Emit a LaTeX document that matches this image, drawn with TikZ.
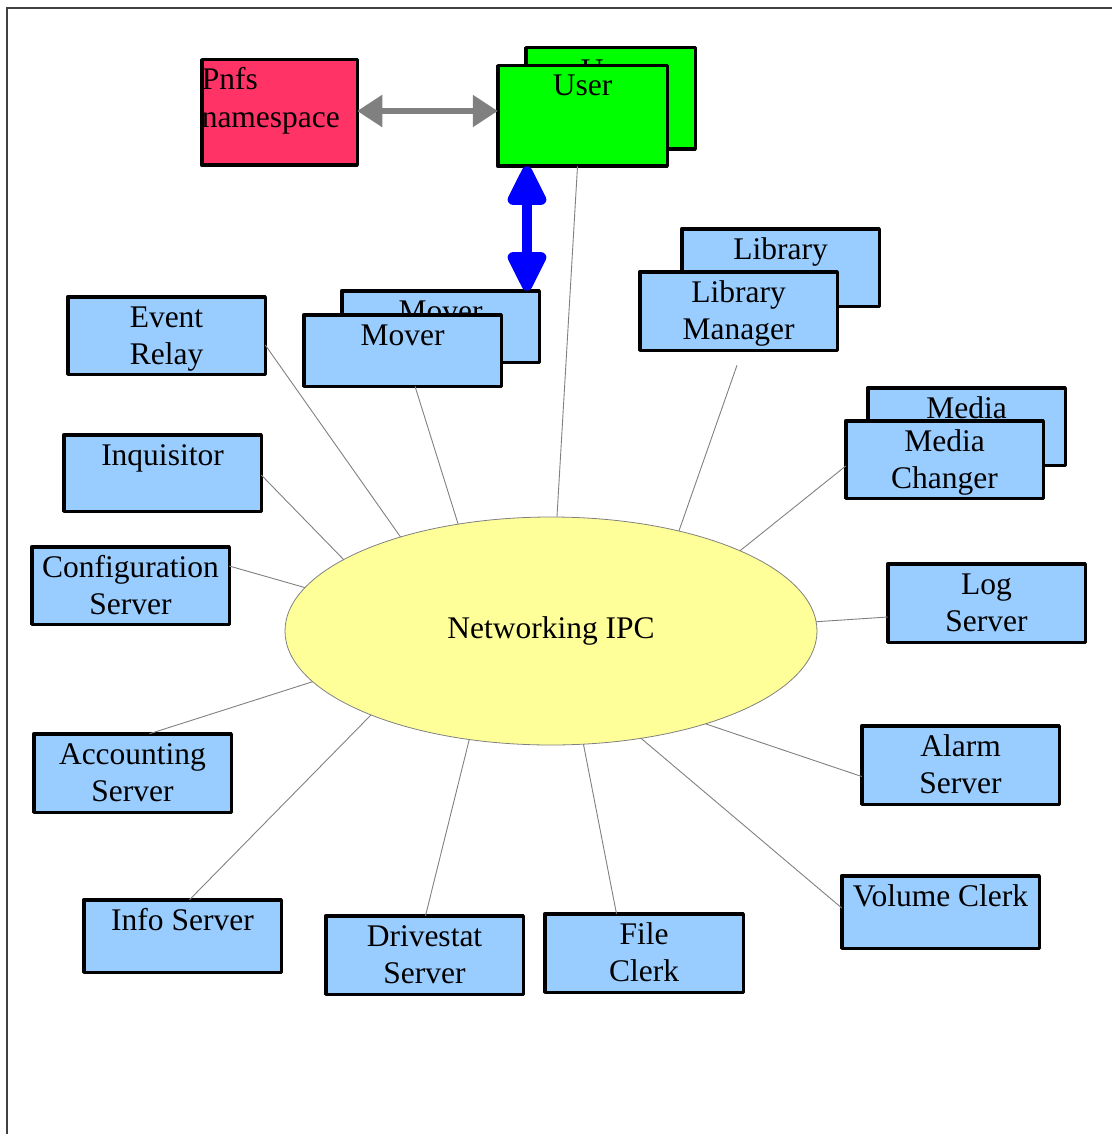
\documentclass[tikz,border=0pt]{standalone}
\usepackage{fontspec}
\setmainfont{Liberation Serif}
\usetikzlibrary{shapes.geometric,arrows.meta,calc}
\definecolor{skyb}{HTML}{99CCFF}
\definecolor{pnfsred}{HTML}{FF3366}
\definecolor{usergreen}{HTML}{00FF00}
\definecolor{ipcyellow}{HTML}{FFFF99}
\definecolor{arrowblue}{HTML}{0000FF}
\definecolor{midgray}{HTML}{808080}
\definecolor{framegray}{HTML}{404040}
\newcommand{\bx}[3]{\parbox[c][#2pt][t]{#1pt}{\centering\rule{0pt}{30.25pt}#3}}
\newcommand{\bxl}[3]{\parbox[c][#2pt][t]{#1pt}{\raggedright\rule{0pt}{30.25pt}#3}}
\tikzset{
  box/.style={draw=black, line width=3.5pt, line join=round, fill=skyb, inner sep=0pt, outer sep=0pt,
    font=\fontsize{31.5}{37.5}\selectfont},
  ipcnode/.style={ellipse, draw=midgray, line width=0.8pt, fill=ipcyellow, minimum width=532pt,
    minimum height=228pt, inner sep=0pt, outer sep=0pt, font=\fontsize{31.5}{37.5}\selectfont},
  conn/.style={draw=midgray, line width=0.9pt},
  grayarrow/.style={draw=midgray, line width=5.5pt,
    {Triangle[length=25pt,width=31pt]}-{Triangle[length=25pt,width=31pt]}},
  bluearrow/.style={draw=arrowblue, line width=10.5pt,
    {Triangle[length=46pt,width=42pt,round]}-{Triangle[length=46pt,width=42pt,round]}},
  framestyle/.style={draw=framegray, line width=1.2pt}
}
\begin{document}
\begin{tikzpicture}[x=1pt,y=-1pt]
\useasboundingbox (0,0) rectangle (1112,1134);
\draw[framestyle] (1112,8) -- (7,8) -- (7,1134);

% central ellipse
\node[ipcnode] (ipc) at (551,631) {Networking IPC};

% top boxes
\node[box, fill=pnfsred] (pnfs) at (279.5,112.5) {\bxl{155.5}{105.5}{Pnfs\\namespace}};
\node[box, fill=usergreen] (userb) at (610.5,98.5) {\bx{169.5}{101.5}{\raisebox{-2.5pt}{User}}};
\node[box, fill=usergreen] (user) at (582.5,116) {\bx{169.5}{100.5}{User}};

% satellites
\node[box] (moverb) at (440.5,326.5) {\bx{197.5}{71.5}{Mover}};
\node[box] (mover) at (402.5,350.5) {\bx{197.5}{71.5}{Mover}};
\node[box] (libb) at (780.5,267.5) {\bx{197.5}{77.5}{Library}};
\node[box] (lib) at (738.5,311) {\bx{197.5}{78.5}{Library\\Manager}};
\node[box] (evt) at (166.5,335.5) {\bx{197.5}{77.5}{Event\\Relay}};
\node[box] (inq) at (162.5,473) {\bx{197.5}{76.5}{Inquisitor}};
\node[box] (cfg) at (130.5,585.5) {\bx{197.5}{77.5}{Configuration\\Server}};
\node[box] (medb) at (966.5,426.5) {\bx{197.5}{77.5}{Media}};
\node[box] (med) at (944.5,459.5) {\bx{197.5}{77.5}{Media\\Changer}};
\node[box] (log) at (986.5,603) {\bx{197.5}{78.5}{Log\\Server}};
\node[box] (acc) at (132.5,773) {\bx{197.5}{78.5}{Accounting\\Server}};
\node[box] (alarm) at (960.5,765) {\bx{197.5}{78.5}{Alarm\\Server}};
\node[box] (info) at (182.5,936) {\bx{197.5}{72.5}{Info Server}};
\node[box] (drv) at (424.5,955) {\bx{197.5}{78.5}{Drivestat\\Server}};
\node[box] (file) at (644,953) {\bx{198.5}{78.5}{File\\Clerk}};
\node[box] (vol) at (940.5,912) {\bx{197.5}{72.5}{Volume Clerk}};

% connectors to the IPC ellipse
\draw[conn] ($(user.south)+(-5,0)$) -- (ipc.87);
\draw[conn] ($(evt.east)+(0,9.5)$) -- (ipc.148.6);
\draw[conn] ($(mover.south)+(12.5,0)$) -- (ipc.131);
\draw[conn] ($(lib.south)+(-1.5,15)$) -- (ipc.38.6);
\draw[conn] ($(inq.east)+(0,2)$) -- (ipc.161.2);
\draw[conn] ($(med.west)+(0,6.5)$) -- (ipc.23);
\draw[conn] ($(cfg.east)+(0,-19.5)$) -- (ipc.170.8);
\draw[conn] ($(log.west)+(0,14)$) -- (ipc.2.6);
\draw[conn] ($(acc.north)+(17,0)$) -- (ipc.192.2);
\draw[conn] ($(alarm.west)+(0,11.5)$) -- (ipc.329);
\draw[conn] ($(info.north)+(7,0)$) -- (ipc.205.6);
\draw[conn] ($(drv.north)+(1,0)$) -- (ipc.233.3);
\draw[conn] ($(file.north)+(-27.5,0)$) -- (ipc.286.1);
\draw[conn] ($(vol.west)+(0,-4)$) -- (ipc.310.6);

% arrows
\draw[grayarrow] ($(pnfs.east)+(0,-1.5)$) -- ($(pnfs.east -| user.west)+(0,-1.5)$);
\draw[bluearrow] ($(user.south)+(-55.5,0)$) -- ($(moverb.north)+(86.5,0)$);
\end{tikzpicture}
\end{document}
